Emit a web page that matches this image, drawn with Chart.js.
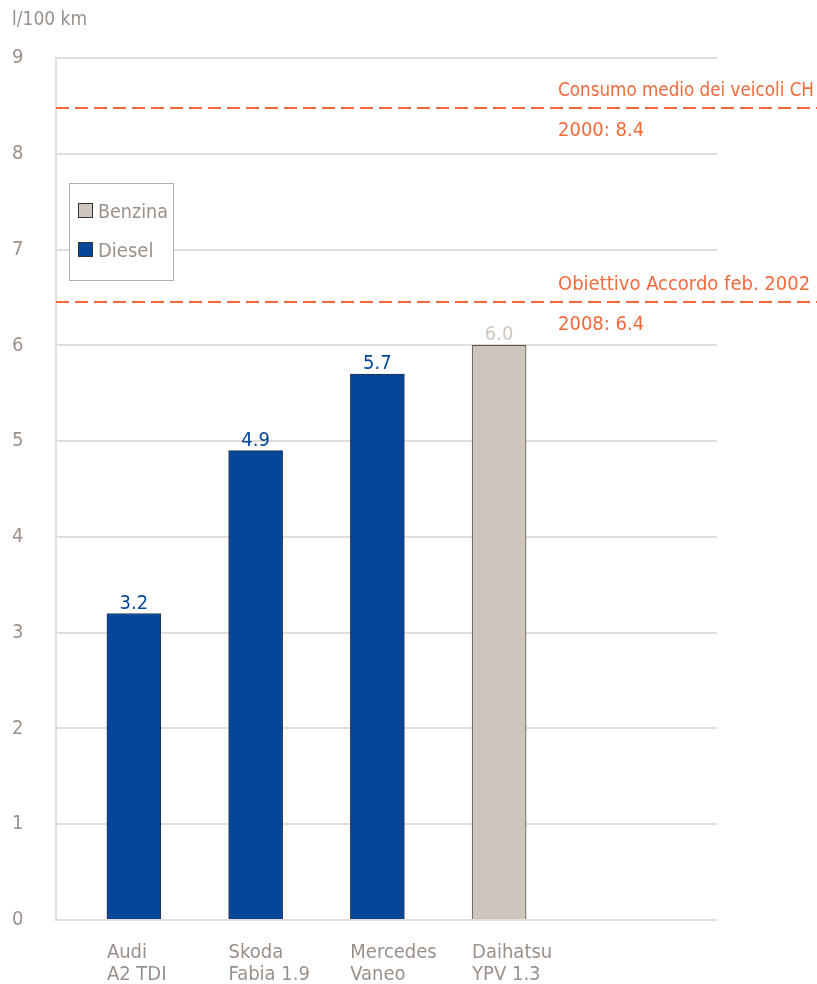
<!DOCTYPE html>
<html>
<head>
<meta charset="utf-8">
<script src="https://cdn.jsdelivr.net/npm/chart.js@4/dist/chart.umd.min.js"></script>
<style>
  html, body { margin: 0; padding: 0; background: #fff; }
  #wrap { width: 817px; height: 984px; }
</style>
</head>
<body>
<div id="wrap"><canvas id="chart" width="817" height="984"></canvas></div>
<script>
const FONT = '"DejaVu Sans Condensed", "DejaVu Sans", sans-serif';
const GREY_TEXT = '#9a9089';
const BLUE = '#03469a';
const BEIGE = '#cec6bd';
const ORANGE = '#f26a3c';

// data
const cars = [['Audi', 'A2 TDI'], ['Skoda', 'Fabia 1.9'], ['Mercedes', 'Vaneo'], ['Daihatsu', 'YPV 1.3']];
const carPos = [0.64, 1.64, 2.64, 3.64];
const dieselValues = [3.2, 4.9, 5.7, null];
const benzinaValues = [null, null, null, 6.0];
const yTicks = [0, 1, 2, 3, 4, 5, 6, 7, 8, 9];
const refValues = [8.48, 6.45];
const refTitles = ['Consumo medio dei veicoli CH', 'Obiettivo Accordo feb. 2002'];
const refLabels = ['2000: 8.4', '2008: 6.4'];

const toPoints = vals => vals.map((v, i) => ({ x: carPos[i], y: v })).filter(p => p.y !== null);

const overlay = {
  id: 'overlay',
  afterDatasetsDraw(chart) {
    const ctx = chart.ctx;
    const y = chart.scales.y;
    const area = chart.chartArea;
    ctx.save();

    // axis title
    ctx.font = '19px ' + FONT;
    ctx.fillStyle = GREY_TEXT;
    ctx.textAlign = 'left';
    ctx.textBaseline = 'alphabetic';
    ctx.fillText('l/100 km', 12, 25);

    // reference lines
    refValues.forEach((v, i) => {
      const py = Math.round(y.getPixelForValue(v));
      ctx.strokeStyle = ORANGE;
      ctx.lineWidth = 2;
      ctx.setLineDash([13, 6]);
      ctx.beginPath();
      ctx.moveTo(area.left, py);
      ctx.lineTo(chart.width, py);
      ctx.stroke();
      ctx.setLineDash([]);
      ctx.fillStyle = ORANGE;
      ctx.font = '20px ' + FONT;
      ctx.fillText(refTitles[i], 558, py - 12, 256);
      ctx.fillText(refLabels[i], 558, py + 28);
    });

    // value labels
    chart.data.datasets.forEach((ds, di) => {
      const meta = chart.getDatasetMeta(di);
      meta.data.forEach((bar, j) => {
        ctx.fillStyle = ds.labelColor;
        ctx.font = '20px ' + FONT;
        ctx.textAlign = 'center';
        ctx.fillText(ds.data[j].y.toFixed(1), bar.x, bar.y - 5);
      });
    });

    // legend box
    ctx.fillStyle = '#fff';
    ctx.fillRect(69, 183, 104, 97);
    ctx.strokeStyle = '#b8b0a8';
    ctx.lineWidth = 1;
    ctx.strokeRect(69.5, 183.5, 104, 97);
    const items = [['Benzina', BEIGE, 211], ['Diesel', BLUE, 250]];
    items.forEach(([name, color, cy]) => {
      ctx.fillStyle = color;
      ctx.fillRect(78, cy - 8, 15, 15);
      ctx.strokeStyle = '#333';
      ctx.strokeRect(78.5, cy - 7.5, 14, 14);
      ctx.fillStyle = GREY_TEXT;
      ctx.textAlign = 'left';
      ctx.font = '20px ' + FONT;
      ctx.fillText(name, 98, cy + 7, 70);
    });
    ctx.restore();
  }
};

new Chart(document.getElementById('chart'), {
  type: 'bar',
  data: {
    datasets: [
      {
        label: 'Diesel',
        data: toPoints(dieselValues),
        backgroundColor: BLUE,
        borderColor: '#2a3550',
        borderWidth: 1,
        labelColor: BLUE
      },
      {
        label: 'Benzina',
        data: toPoints(benzinaValues),
        backgroundColor: BEIGE,
        borderColor: '#555',
        borderWidth: 1,
        labelColor: '#cfc8c0'
      }
    ]
  },
  options: {
    responsive: false,
    animation: false,
    grouped: false,
    barThickness: 54,
    layout: { padding: { left: 12, right: 100, top: 58, bottom: 0 } },
    plugins: {
      legend: { display: false },
      tooltip: { enabled: false }
    },
    scales: {
      x: {
        type: 'linear',
        offset: false,
        min: 0,
        max: 5.43,
        afterBuildTicks: s => { s.ticks = carPos.map(p => ({ value: p - 0.222 })); },
        afterFit: s => { s.height = 64; },
        grid: { display: false },
        border: { display: false },
        ticks: {
          align: 'start',
          padding: 14,
          color: GREY_TEXT,
          font: { family: FONT, size: 20, lineHeight: 1.1 },
          callback: (v, i) => cars[i]
        }
      },
      y: {
        min: 0,
        max: 9,
        afterBuildTicks: s => { s.ticks = yTicks.map(v => ({ value: v })); },
        afterFit: s => { s.width = 44; },
        grid: { color: '#e2ddd8', lineWidth: 2, drawTicks: false },
        border: { color: '#e2ddd8', width: 2 },
        ticks: {
          crossAlign: 'far',
          padding: 8,
          color: GREY_TEXT,
          font: { family: FONT, size: 20 }
        }
      }
    }
  },
  plugins: [overlay]
});
</script>
</body>
</html>
